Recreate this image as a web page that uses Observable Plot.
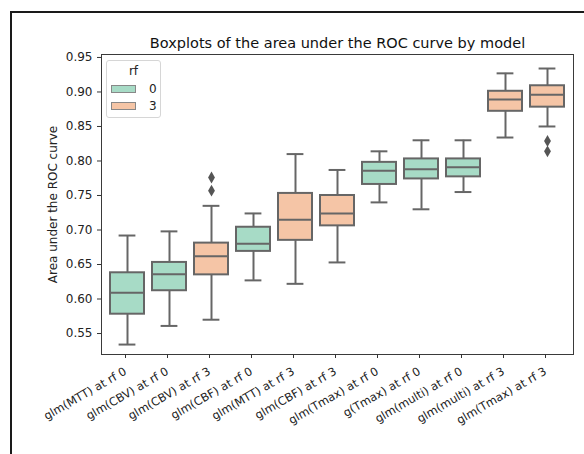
<!DOCTYPE html>
<html>
<head>
<meta charset="utf-8">
<script src="https://cdn.jsdelivr.net/npm/d3@7"></script>
<script src="https://cdn.jsdelivr.net/npm/@observablehq/plot@0.6"></script>
<style>
  html, body { margin: 0; padding: 0; background: #fff; }
  #wrap { position: relative; width: 584px; height: 454px; overflow: hidden; font-family: "DejaVu Sans", sans-serif; }
  #outer { position: absolute; left: 10px; top: 11px; width: 600px; height: 480px; border-top: 2px solid #1a1a1a; border-left: 2px solid #1a1a1a; }
  #chart { position: absolute; left: 0; top: 0; }
  #legend { position: absolute; left: 106px; top: 60px; width: 53px; height: 56px; border: 1px solid #d6d6d6; border-radius: 3px; background: rgba(255,255,255,0.85); font-size: 12px; color: #222; }
  #legend .ttl { position: absolute; left: 0; width: 53px; top: 3px; text-align: center; }
  #legend .row { position: absolute; left: 4px; height: 14px; display: flex; align-items: center; }
  #legend .sw { width: 25px; height: 8px; border: 1px solid #888; box-sizing: border-box; margin-right: 13px; }
</style>
</head>
<body>
<div id="wrap">
  <div id="outer"></div>
  <div id="chart"></div>
  <div id="legend"></div>
</div>
<script>
// ---- data ----
const models = [
  "glm(MTT) at rf 0", "glm(CBV) at rf 0", "glm(CBV) at rf 3", "glm(CBF) at rf 0",
  "glm(MTT) at rf 3", "glm(CBF) at rf 3", "glm(Tmax) at rf 0", "g(Tmax) at rf 0",
  "glm(multi) at rf 0", "glm(multi) at rf 3", "glm(Tmax) at rf 3"
];
const rfLevel     = ["0", "0", "3", "0", "3", "3", "0", "0", "0", "3", "3"];
const whiskerLow  = [0.534, 0.561, 0.570, 0.627, 0.622, 0.653, 0.740, 0.730, 0.755, 0.834, 0.850];
const quartile1   = [0.578, 0.612, 0.635, 0.669, 0.685, 0.706, 0.766, 0.774, 0.777, 0.872, 0.878];
const medians     = [0.609, 0.636, 0.662, 0.680, 0.715, 0.724, 0.786, 0.788, 0.791, 0.889, 0.896];
const quartile3   = [0.638, 0.653, 0.681, 0.704, 0.753, 0.750, 0.798, 0.803, 0.803, 0.901, 0.909];
const whiskerHigh = [0.692, 0.698, 0.735, 0.724, 0.810, 0.787, 0.814, 0.830, 0.830, 0.927, 0.934];
const outlierModel = ["glm(CBV) at rf 3", "glm(CBV) at rf 3", "glm(Tmax) at rf 3", "glm(Tmax) at rf 3"];
const outlierValue = [0.776, 0.757, 0.829, 0.814];
const rfLevels = ["0", "3"];
const rfColors = ["#a7dbc6", "#f5c5a6"];
const yTicks = [0.55, 0.60, 0.65, 0.70, 0.75, 0.80, 0.85, 0.90, 0.95];
const titleText = "Boxplots of the area under the ROC curve by model";
const yLabel = "Area under the ROC curve";
const legendTitle = "rf";

// ---- build ----
const rows = models.map((m, i) => ({
  model: m, rf: rfLevel[i], lo: whiskerLow[i], q1: quartile1[i],
  med: medians[i], q3: quartile3[i], hi: whiskerHigh[i]
}));
const outliers = outlierModel.map((m, i) => ({model: m, value: outlierValue[i]}));

const gray = "#666666";
const lw = 2;
const capInset = 8.6;

const chart = Plot.plot({
  width: 584,
  height: 454,
  marginLeft: 101,
  marginRight: 11,
  marginTop: 54,
  marginBottom: 100,
  style: {fontFamily: "DejaVu Sans, sans-serif", fontSize: "12px", color: "#222", background: "transparent"},
  x: {domain: models, paddingInner: 0.2, paddingOuter: 0.1},
  y: {domain: [0.5196, 0.9543]},
  color: {domain: rfLevels, range: rfColors},
  marks: [
    Plot.ruleX(rows, {x: "model", y1: "lo", y2: "q1", stroke: gray, strokeWidth: lw}),
    Plot.ruleX(rows, {x: "model", y1: "q3", y2: "hi", stroke: gray, strokeWidth: lw}),
    Plot.tickY(rows, {x: "model", y: "lo", stroke: gray, strokeWidth: lw, insetLeft: capInset, insetRight: capInset}),
    Plot.tickY(rows, {x: "model", y: "hi", stroke: gray, strokeWidth: lw, insetLeft: capInset, insetRight: capInset}),
    Plot.barY(rows, {x: "model", y1: "q1", y2: "q3", fill: "rf", stroke: gray, strokeWidth: lw}),
    Plot.tickY(rows, {x: "model", y: "med", stroke: gray, strokeWidth: lw}),
    Plot.dot(outliers, {x: "model", y: "value", symbol: "diamond", fill: "#555", stroke: "none", r: 3.6}),
    Plot.frame({stroke: "#3a3a3a", strokeWidth: 1}),
    Plot.axisY({ticks: yTicks, tickFormat: d3.format(".2f"), tickSize: 4, tickPadding: 5,
      label: yLabel, labelAnchor: "center", labelArrow: "none", labelOffset: 53, stroke: "#333"}),
    Plot.axisX({tickRotate: -30, tickSize: 4, tickPadding: 12, dx: -2, fontSize: 11.5, label: null, stroke: "#333"}),
    Plot.text([titleText], {frameAnchor: "top", lineAnchor: "bottom", dy: -7, fontSize: 14.5, fill: "#111"})
  ]
});
document.getElementById("chart").appendChild(chart);

// legend
const lg = document.getElementById("legend");
const t = document.createElement("div");
t.className = "ttl";
t.textContent = legendTitle;
lg.appendChild(t);
rfLevels.forEach((lv, i) => {
  const r = document.createElement("div");
  r.className = "row";
  r.style.top = (21 + i * 17) + "px";
  const sw = document.createElement("div");
  sw.className = "sw";
  sw.style.background = rfColors[i];
  const lab = document.createElement("span");
  lab.textContent = lv;
  r.appendChild(sw);
  r.appendChild(lab);
  lg.appendChild(r);
});
</script>
</body>
</html>
